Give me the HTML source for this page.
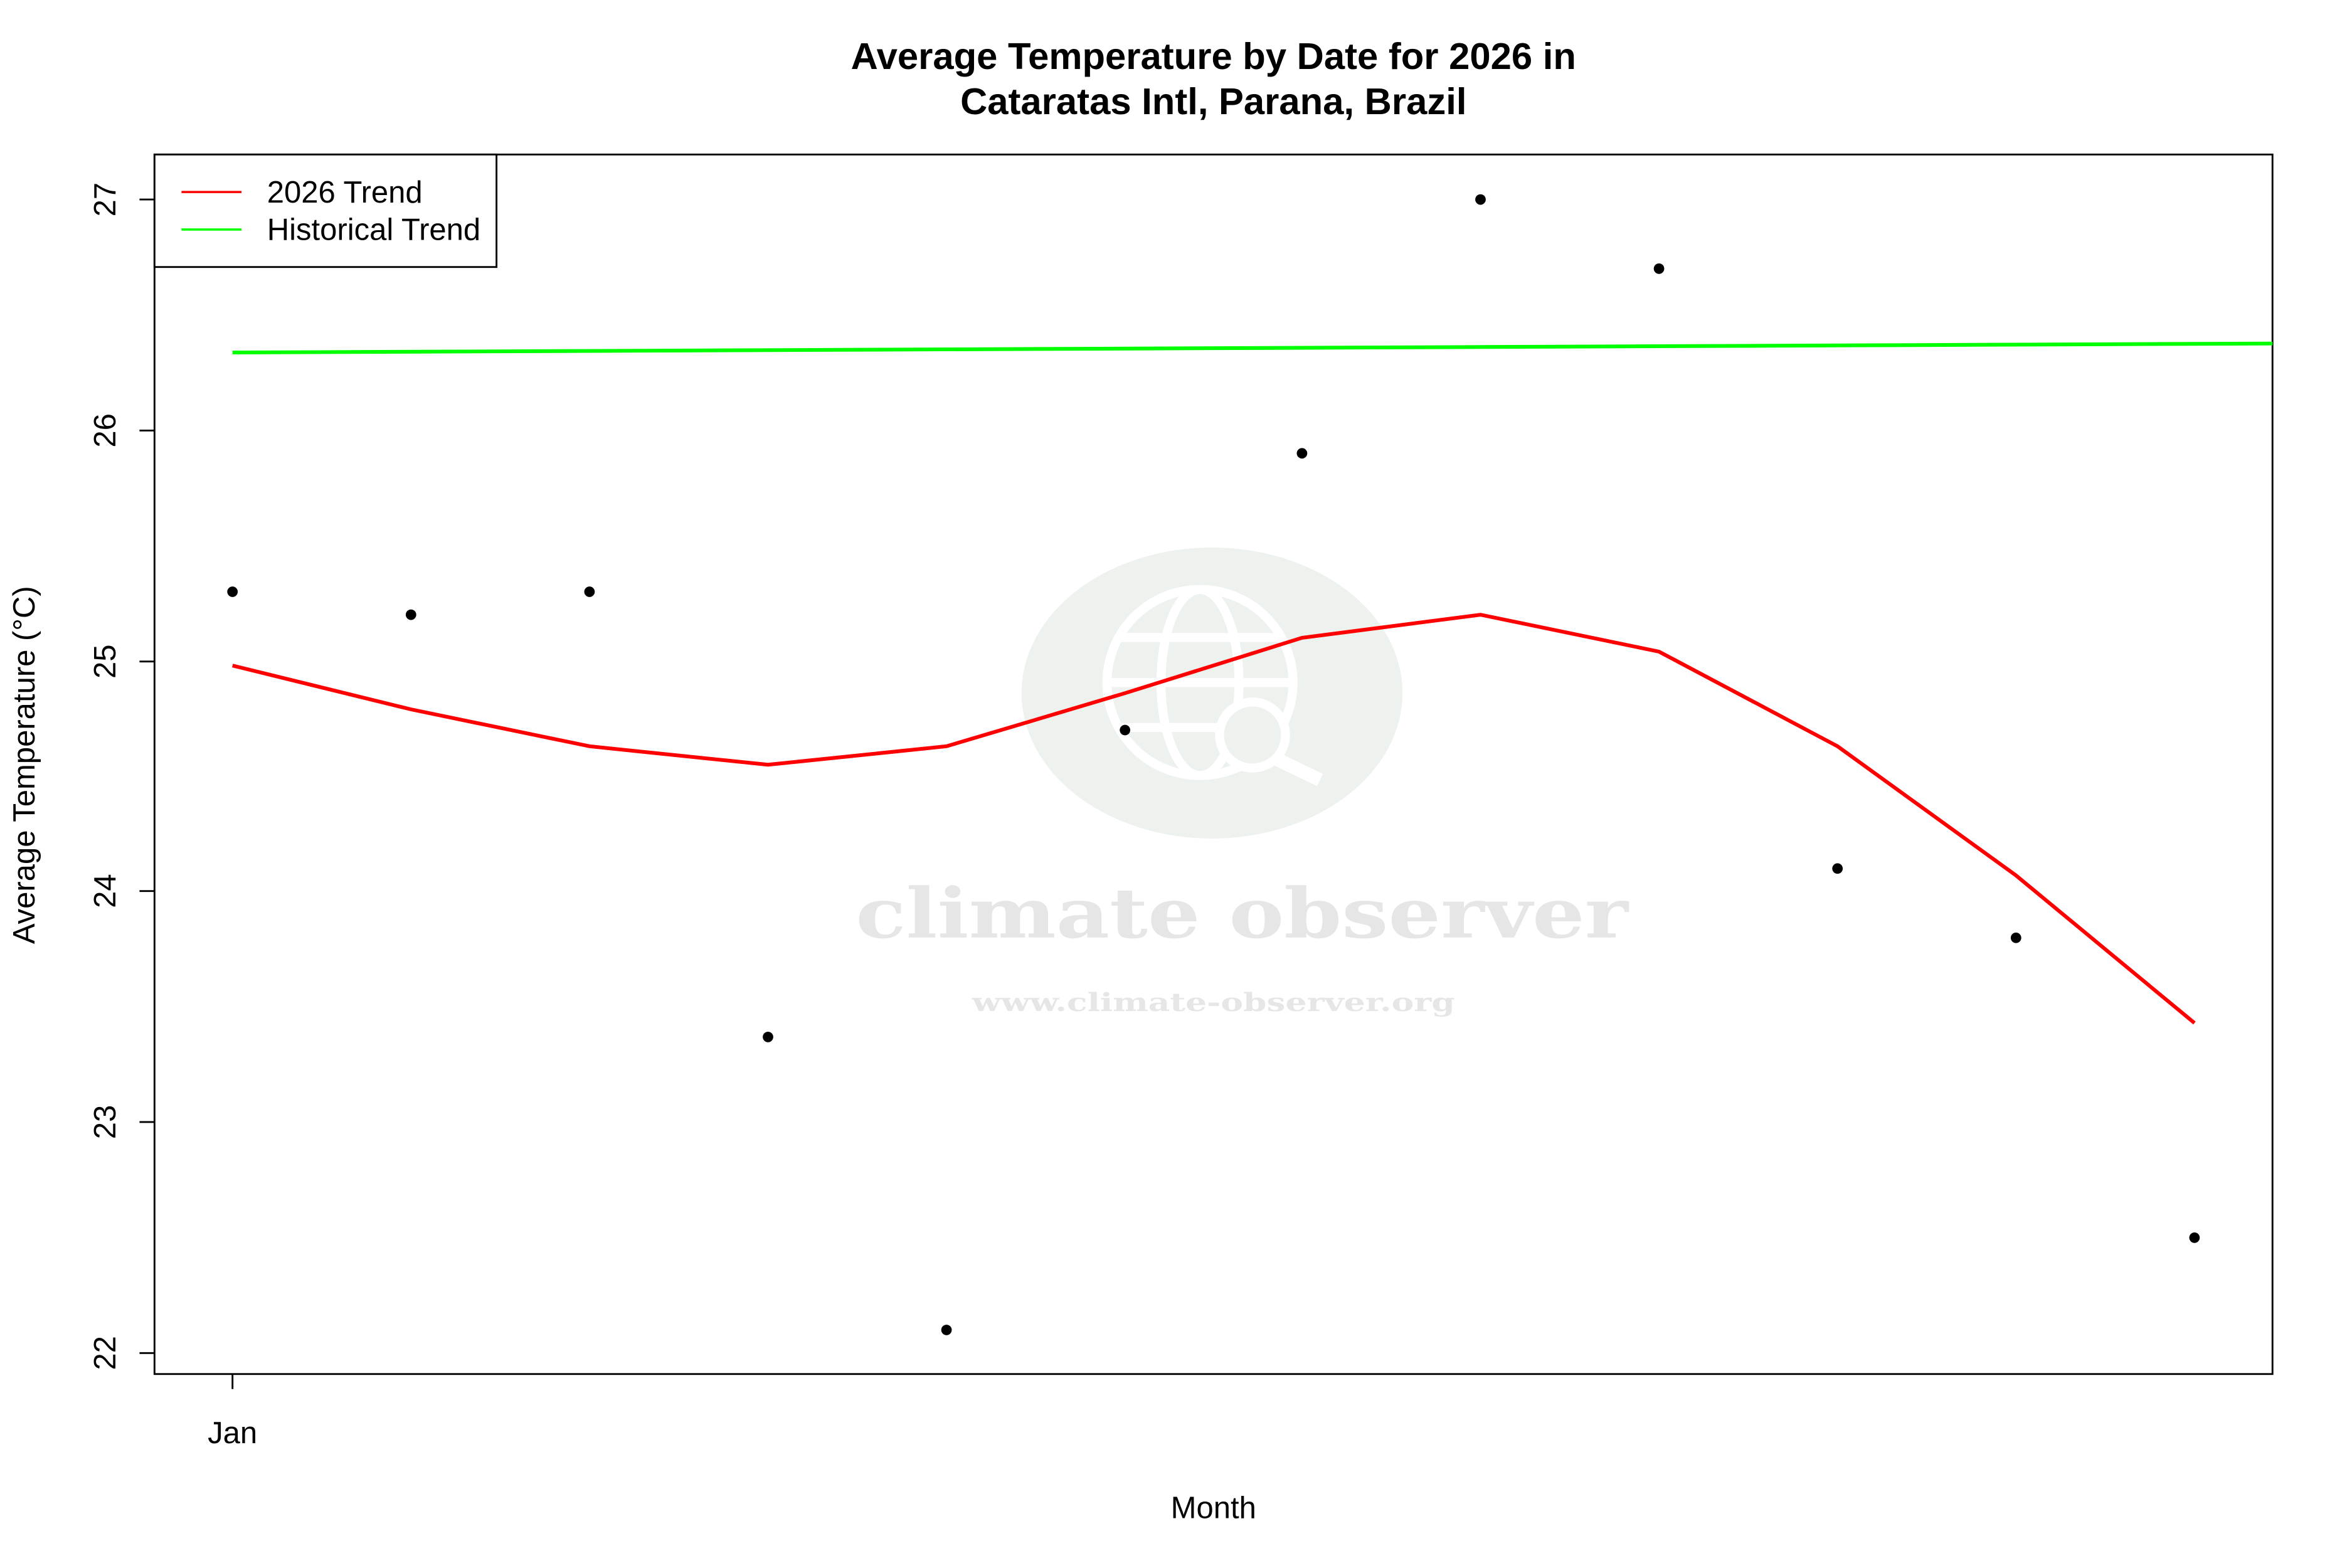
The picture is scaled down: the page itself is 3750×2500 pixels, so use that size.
<!DOCTYPE html>
<html><head><style>html,body{margin:0;padding:0;background:#fff}svg{display:block}</style></head>
<body>
<svg xmlns="http://www.w3.org/2000/svg" width="3750" height="2500" viewBox="0 0 1568 1045.3" preserveAspectRatio="none" font-family="Liberation Sans, sans-serif">
<rect width="1568" height="1046" fill="#fff"/>
<ellipse cx="808" cy="462" rx="127" ry="97" fill="#eef2ee"/>
<g fill="none" stroke="#fff" stroke-width="6">
<circle cx="800" cy="455" r="62"/>
<ellipse cx="800" cy="455" rx="26" ry="62"/>
<line x1="738" y1="455" x2="862" y2="455"/>
<line x1="745" y1="425" x2="855" y2="425"/>
<line x1="745" y1="485" x2="855" y2="485"/>
<circle cx="835" cy="490" r="22" fill="#eef2ee"/>
<line x1="851" y1="506" x2="880" y2="520" stroke-width="9"/>
</g>
<text x="828" y="625" text-anchor="middle" font-family="DejaVu Serif, serif" font-weight="bold" font-size="46" fill="#e6e6e6" textLength="515" lengthAdjust="spacingAndGlyphs">climate observer</text>
<text x="809" y="674" text-anchor="middle" font-family="DejaVu Serif, serif" font-weight="bold" font-size="17" fill="#e6e6e6" textLength="322" lengthAdjust="spacingAndGlyphs">www.climate-observer.org</text>
<text x="809" y="46" text-anchor="middle" font-weight="bold" font-size="25">Average Temperature by Date for 2026 in</text>
<text x="809" y="76" text-anchor="middle" font-weight="bold" font-size="25">Cataratas Intl, Parana, Brazil</text>
<rect x="103" y="103" width="1412" height="813" fill="none" stroke="#000" stroke-width="1.2"/>
<g stroke="#000" stroke-width="1.2">
<line x1="93" y1="133" x2="103" y2="133"/>
<line x1="93" y1="287" x2="103" y2="287"/>
<line x1="93" y1="441" x2="103" y2="441"/>
<line x1="93" y1="594" x2="103" y2="594"/>
<line x1="93" y1="748" x2="103" y2="748"/>
<line x1="93" y1="902" x2="103" y2="902"/>
<line x1="155" y1="916" x2="155" y2="926"/>
</g>
<g font-size="20.5" text-anchor="middle">
<text transform="translate(77,133) rotate(-90)">27</text>
<text transform="translate(77,287) rotate(-90)">26</text>
<text transform="translate(77,441) rotate(-90)">25</text>
<text transform="translate(77,594) rotate(-90)">24</text>
<text transform="translate(77,748) rotate(-90)">23</text>
<text transform="translate(77,902) rotate(-90)">22</text>
<text x="155" y="962">Jan</text>
<text x="809" y="1012">Month</text>
<text transform="translate(23,510) rotate(-90)">Average Temperature (°C)</text>
</g>
<line x1="155" y1="235" x2="1515" y2="229" stroke="#00ff00" stroke-width="2.5"/>
<polyline fill="none" stroke="#ff0000" stroke-width="2.5" points="155,443.7 274,472.9 393,497.5 512,509.8 631,497.5 750,462.1 868,425.2 987,409.8 1106,434.4 1225,497.5 1344,583.6 1463,682"/>
<g fill="#000">
<circle cx="155" cy="394.5" r="3.5"/>
<circle cx="274" cy="409.8" r="3.5"/>
<circle cx="393" cy="394.5" r="3.5"/>
<circle cx="512" cy="691.3" r="3.5"/>
<circle cx="631" cy="886.6" r="3.5"/>
<circle cx="750" cy="486.7" r="3.5"/>
<circle cx="868" cy="302.2" r="3.5"/>
<circle cx="987" cy="133" r="3.5"/>
<circle cx="1106" cy="179.1" r="3.5"/>
<circle cx="1225" cy="579" r="3.5"/>
<circle cx="1344" cy="625.2" r="3.5"/>
<circle cx="1463" cy="825.1" r="3.5"/>
</g>
<rect x="103" y="103" width="228" height="75" fill="#fff" stroke="#000" stroke-width="1.2"/>
<line x1="121" y1="128" x2="161" y2="128" stroke="#ff0000" stroke-width="1.5"/>
<line x1="121" y1="153" x2="161" y2="153" stroke="#00ff00" stroke-width="1.5"/>
<text x="178" y="135" font-size="20.5">2026 Trend</text>
<text x="178" y="160" font-size="20.5">Historical Trend</text>
</svg>
</body></html>
